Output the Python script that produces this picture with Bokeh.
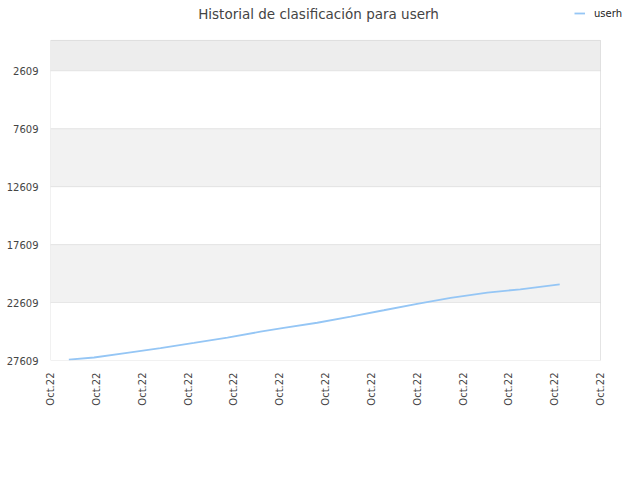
import math
from bokeh.plotting import figure
from bokeh.models import (Range1d, FixedTicker, BoxAnnotation, Legend, LegendItem, Label)
from bokeh.embed import file_html
from bokeh.resources import INLINE

# ---- data ----
title_text = "Historial de clasificación para userh"
series_name = "userh"
days = [4, 9.5, 16.7, 24, 31.3, 38.6, 45.8, 50.9, 58.2, 65.5, 72.7, 80, 87.3, 95.3, 102.5, 111.1]
ranks = [27540, 27351, 26955, 26550, 26093, 25627, 25127, 24800, 24352, 23817,
         23274, 22714, 22197, 21748, 21464, 21033]
x_ticks = [0, 10, 20, 30, 40, 50, 60, 70, 80, 90, 100, 110, 120]
x_tick_labels = ["Oct.22"] * 13
y_ticks = [2609, 7609, 12609, 17609, 22609, 27609]
y_tick_labels = ["2609", "7609", "12609", "17609", "22609", "27609"]
rank_top = 0

FONT = "DejaVu Sans"

# frame spans the top and right of the canvas so that title/legend (drawn inside it) are not clipped
p = figure(width=640, height=480, output_backend="svg", toolbar_location=None,
           title=None,
           x_range=Range1d(0, 128.727), y_range=Range1d(27609, -3451),
           min_border_left=50, min_border_right=0, min_border_top=0,
           min_border_bottom=120)

p.outline_line_color = None
p.background_fill_color = "white"
p.border_fill_color = "white"

# horizontal bands
edges = [rank_top] + y_ticks
fills = ["#ededed", "#ffffff", "#f2f2f2", "#ffffff", "#f2f2f2", "#ffffff"]
for top, bottom, fc in zip(edges[:-1], edges[1:], fills):
    p.add_layout(BoxAnnotation(left=x_ticks[0], right=x_ticks[-1], top=top, bottom=bottom,
                               fill_color=fc, fill_alpha=1, line_color=None, level="underlay"))
# grid lines at every tick (drawn after all fills)
for top, bottom in zip(edges[:-1], edges[1:]):
    p.add_layout(BoxAnnotation(left=x_ticks[0], right=x_ticks[-1], top=top, bottom=bottom,
                               fill_alpha=0, line_color="#d0d0d0", line_width=1, level="underlay"))

r = p.line(days, ranks, line_color="#95c6f5", line_width=1.8)

# plot-area outline
p.add_layout(BoxAnnotation(left=x_ticks[0], right=x_ticks[-1], top=rank_top, bottom=y_ticks[-1],
                           fill_alpha=0, line_color="#c8c8c8", line_width=1, level="overlay"))

# axes
p.xaxis.ticker = FixedTicker(ticks=x_ticks)
p.xaxis.major_label_overrides = {t: l for t, l in zip(x_ticks, x_tick_labels)}
p.xaxis.major_label_orientation = math.pi / 2
p.yaxis.ticker = FixedTicker(ticks=y_ticks)
p.yaxis.major_label_overrides = {t: l for t, l in zip(y_ticks, y_tick_labels)}
for ax in (p.xaxis, p.yaxis):
    ax.axis_line_color = None
    ax.major_tick_line_color = None
    ax.minor_tick_line_color = None
    ax.major_tick_out = 0
    ax.major_tick_in = 0
    ax.major_label_text_font = FONT
    ax.major_label_text_font_size = "10px"
    ax.major_label_text_color = "#444444"
p.xaxis.major_label_standoff = 12
p.yaxis.major_label_standoff = 12

p.xgrid.grid_line_color = None
p.ygrid.grid_line_color = None

# title (screen units relative to frame bottom-left)
p.add_layout(Label(x=268, y=347, x_units="screen", y_units="screen", text=title_text,
                   text_align="center", text_baseline="middle", text_font=FONT,
                   text_font_size="13.5px", text_color="#444444"))

legend = Legend(items=[LegendItem(label=series_name, renderers=[r])],
                location=(524, 341), orientation="horizontal",
                padding=0, margin=0, spacing=0, glyph_width=11, glyph_height=12,
                label_height=12, label_standoff=9, border_line_color=None,
                background_fill_alpha=0, label_text_font=FONT,
                label_text_font_size="10px", label_text_color="#222222")
p.add_layout(legend, "center")

open("out.html", "w").write(file_html(p, INLINE))
